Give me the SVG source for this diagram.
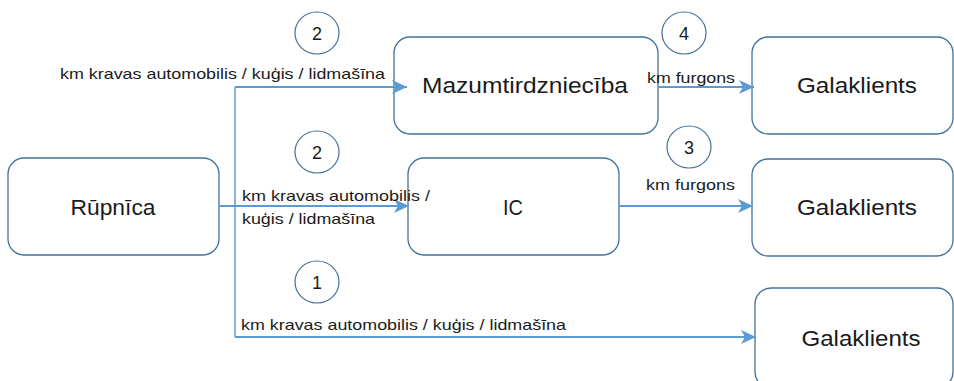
<svg xmlns="http://www.w3.org/2000/svg" width="954" height="381" viewBox="0 0 954 381">
  <defs>
    <marker id="arrow" markerUnits="userSpaceOnUse" markerWidth="16" markerHeight="14" viewBox="0 0 16 14" refX="15" refY="7" orient="auto">
      <path d="M0,0 L15,7 L0,14 L4,7 Z" fill="#5B9BD5"/>
    </marker>
    <style>
      .box { fill: #ffffff; stroke: #41719C; stroke-width: 1.3; }
      .badge { fill: #ffffff; stroke: #41719C; stroke-width: 1.2; }
      .wire { fill: none; stroke: #5B9BD5; stroke-width: 2; }
      .trunk { fill: none; stroke: #5B9BD5; stroke-width: 1.5; }
      .name { font-family: "Liberation Sans", Arial, sans-serif; font-size: 22px; fill: #1a1a1a; text-anchor: middle; }
      .lbl { font-family: "Liberation Sans", Arial, sans-serif; font-size: 15px; fill: #1a1a1a; }
      .num { font-family: "Liberation Sans", Arial, sans-serif; font-size: 18px; fill: #1a1a1a; text-anchor: middle; }
    </style>
  </defs>

  <rect width="954" height="381" fill="#ffffff"/>

  <!-- nodes -->
  <g id="mazumtirdznieciba">
    <rect class="box" x="394" y="37" width="264" height="97" rx="16"/>
    <text class="name" x="525" y="93" textLength="206" lengthAdjust="spacingAndGlyphs">Mazumtirdzniecība</text>
  </g>
  <g id="galaklients-1">
    <rect class="box" x="752" y="37" width="201" height="97" rx="16"/>
    <text class="name" x="857" y="93" textLength="120" lengthAdjust="spacingAndGlyphs">Galaklients</text>
  </g>
  <g id="rupnica">
    <rect class="box" x="8" y="158" width="211" height="97" rx="16"/>
    <text class="name" x="113" y="215" textLength="85" lengthAdjust="spacingAndGlyphs">Rūpnīca</text>
  </g>
  <g id="ic">
    <rect class="box" x="408" y="158" width="211" height="97" rx="16"/>
    <text class="name" x="513" y="215" textLength="20" lengthAdjust="spacingAndGlyphs">IC</text>
  </g>
  <g id="galaklients-2">
    <rect class="box" x="752" y="159" width="201" height="97" rx="16"/>
    <text class="name" x="857" y="215" textLength="120" lengthAdjust="spacingAndGlyphs">Galaklients</text>
  </g>
  <g id="galaklients-3">
    <rect class="box" x="755" y="288" width="198" height="100" rx="16"/>
    <text class="name" x="861" y="346" textLength="119" lengthAdjust="spacingAndGlyphs">Galaklients</text>
  </g>

  <!-- step badges -->
  <g id="badge-2a">
    <ellipse class="badge" cx="317" cy="33" rx="22" ry="21"/>
    <text class="num" x="317" y="40">2</text>
  </g>
  <g id="badge-4">
    <ellipse class="badge" cx="684" cy="33" rx="22" ry="21"/>
    <text class="num" x="684" y="40">4</text>
  </g>
  <g id="badge-2b">
    <ellipse class="badge" cx="317" cy="152" rx="22" ry="21"/>
    <text class="num" x="317" y="159">2</text>
  </g>
  <g id="badge-3">
    <ellipse class="badge" cx="689" cy="147" rx="22" ry="21"/>
    <text class="num" x="689" y="154">3</text>
  </g>
  <g id="badge-1">
    <ellipse class="badge" cx="317" cy="282" rx="22" ry="21"/>
    <text class="num" x="317" y="289">1</text>
  </g>

  <!-- connectors, drawn over the boxes -->
  <g id="connectors">
    <polyline class="trunk" points="235,87 235,337"/>
    <line class="wire" x1="235" y1="87" x2="407" y2="87" marker-end="url(#arrow)"/>
    <line class="wire" x1="219" y1="206" x2="409" y2="206" marker-end="url(#arrow)"/>
    <line class="wire" x1="235" y1="337" x2="756" y2="337" marker-end="url(#arrow)"/>
    <line class="wire" x1="658" y1="87" x2="754" y2="87" marker-end="url(#arrow)"/>
    <line class="wire" x1="619" y1="206" x2="753" y2="206" marker-end="url(#arrow)"/>

    <text class="lbl" x="60" y="79" textLength="325" lengthAdjust="spacingAndGlyphs">km kravas automobilis / kuģis / lidmašīna</text>
    <text class="lbl" x="242" y="201" textLength="188" lengthAdjust="spacingAndGlyphs">km kravas automobilis /</text>
    <text class="lbl" x="242" y="224" textLength="133" lengthAdjust="spacingAndGlyphs">kuģis / lidmašīna</text>
    <text class="lbl" x="241" y="330" textLength="325" lengthAdjust="spacingAndGlyphs">km kravas automobilis / kuģis / lidmašīna</text>
    <text class="lbl" x="647" y="83" textLength="88" lengthAdjust="spacingAndGlyphs">km furgons</text>
    <text class="lbl" x="646" y="190" textLength="89" lengthAdjust="spacingAndGlyphs">km furgons</text>
  </g>
</svg>
